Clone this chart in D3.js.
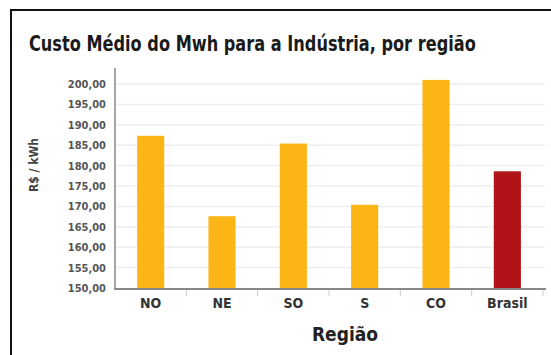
<!DOCTYPE html>
<html>
<head>
<meta charset="utf-8">
<script src="https://cdn.jsdelivr.net/npm/d3@7"></script>
<style>
  html, body { margin: 0; padding: 0; background: #fff; }
  svg { display: block; }
  .cond { font-family: "DejaVu Sans Condensed", "DejaVu Sans", "Liberation Sans", sans-serif; font-stretch: condensed; }
</style>
</head>
<body>
<svg id="chart" width="551" height="355"></svg>
<script>
// Average cost of MWh for industry, by region (R$ / kWh)
const regions = ["NO", "NE", "SO", "S", "CO", "Brasil"];
const costs = [187.3, 167.6, 185.4, 170.4, 201.0, 178.6];
const yTicks = [150, 155, 160, 165, 170, 175, 180, 185, 190, 195, 200];
const barColors = ["#FBB515", "#FBB515", "#FBB515", "#FBB515", "#FBB515", "#B01318"];

const svg = d3.select("#chart");

// outer frame (left and top edges, running off the page)
svg.append("path")
  .attr("d", "M11,355 L11,10 L551,10")
  .attr("fill", "none").attr("stroke", "#111").attr("stroke-width", 2);

// title, squeezed horizontally to a condensed look
const title = svg.append("text")
  .attr("class", "cond")
  .attr("font-size", 22).attr("font-weight", "bold")
  .attr("fill", "#1a1a1a")
  .text("Custo Médio do Mwh para a Indústria, por região");
const titleW = title.node().getComputedTextLength();
title.attr("transform", `translate(29,51) scale(${447 / titleW},1)`);

const plotLeft = 115, plotRight = 543, plotTop = 68, plotBottom = 289;

const x = d3.scaleBand().domain(regions).range([plotLeft, plotRight]).paddingInner(0.62).paddingOuter(0.31);
const y = d3.scaleLinear().domain([150, 200]).range([288, 84]);

// gridlines
svg.append("g")
  .selectAll("line")
  .data(yTicks.slice(1))
  .join("line")
  .attr("x1", plotLeft).attr("x2", 545)
  .attr("y1", d => y(d)).attr("y2", d => y(d))
  .attr("stroke", "#eeeeee").attr("stroke-width", 1.5);

// bars
svg.append("g")
  .selectAll("rect")
  .data(regions)
  .join("rect")
  .attr("x", d => x(d))
  .attr("width", x.bandwidth())
  .attr("y", (d, i) => y(costs[i]))
  .attr("height", (d, i) => plotBottom - y(costs[i]))
  .attr("fill", (d, i) => barColors[i]);

// y axis
const yAxis = d3.axisLeft(y)
  .tickValues(yTicks)
  .tickSize(0)
  .tickPadding(9)
  .tickFormat(d => d3.format(".2f")(d).replace(".", ","));
const gy = svg.append("g").attr("transform", `translate(${plotLeft},0)`).call(yAxis);
gy.select(".domain").remove();
gy.selectAll("text")
  .attr("class", "cond")
  .attr("font-size", 11).attr("font-weight", "bold")
  .attr("fill", "#555");
svg.append("line")
  .attr("x1", plotLeft).attr("x2", plotLeft)
  .attr("y1", plotTop).attr("y2", plotBottom)
  .attr("stroke", "#888").attr("stroke-width", 1.5);

// x axis
const xAxis = d3.axisBottom(x).tickSize(0).tickPadding(9);
const gx = svg.append("g").attr("transform", `translate(0,${plotBottom})`).call(xAxis);
gx.select(".domain").remove();
gx.selectAll("text")
  .attr("class", "cond")
  .attr("font-size", 14).attr("font-weight", "bold")
  .attr("fill", "#333");
svg.append("line")
  .attr("x1", plotLeft - 1).attr("x2", 546)
  .attr("y1", plotBottom).attr("y2", plotBottom)
  .attr("stroke", "#888").attr("stroke-width", 2);

// separators between categories
const sepX = regions.map(r => x(r) + x.bandwidth() + x.step() * x.paddingInner() / 2);
svg.append("g")
  .selectAll("line")
  .data(sepX)
  .join("line")
  .attr("x1", d => d).attr("x2", d => d)
  .attr("y1", plotBottom + 1).attr("y2", plotBottom + 7)
  .attr("stroke", "#ccc").attr("stroke-width", 1);

// axis titles
svg.append("text")
  .attr("class", "cond")
  .attr("transform", "translate(38,165) rotate(-90)")
  .attr("text-anchor", "middle")
  .attr("font-size", 12).attr("font-weight", "bold")
  .attr("fill", "#444")
  .text("R$ / kWh");

svg.append("text")
  .attr("class", "cond")
  .attr("x", 345).attr("y", 341)
  .attr("text-anchor", "middle")
  .attr("font-size", 19).attr("font-weight", "bold")
  .attr("fill", "#222")
  .text("Região");
</script>
</body>
</html>
